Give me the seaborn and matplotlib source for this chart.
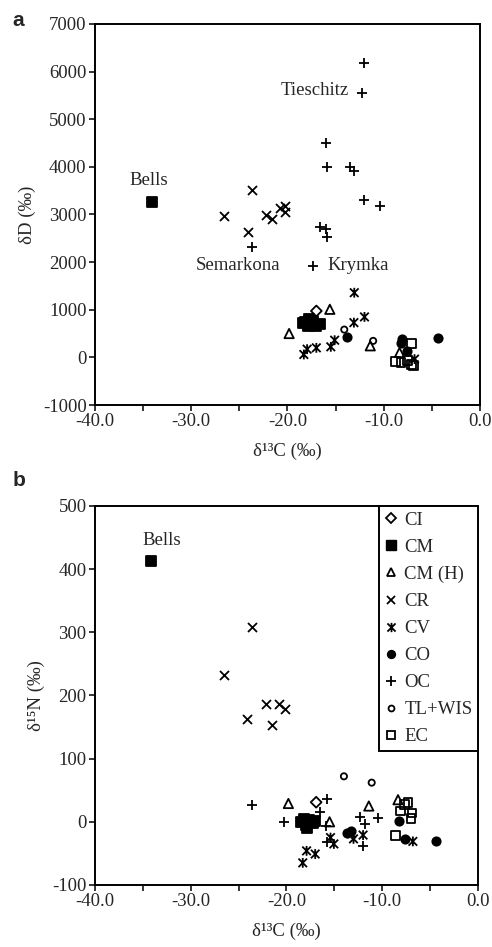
import numpy as np
import pandas as pd
import matplotlib
matplotlib.use("Agg")
import matplotlib.pyplot as plt
from matplotlib.path import Path
from matplotlib.lines import Line2D
from matplotlib.ticker import MultipleLocator, FormatStrFormatter
import seaborn as sns

# panel a: d13C vs dD
a_d13c = [-34.1,
          -12.0, -12.3, -16.0, -15.9, -13.5, -13.1, -12.0, -10.4, -16.65, -16.0, -15.9, -23.66, -17.34,
          -23.66, -26.6, -24.1, -22.2, -21.6, -20.8, -20.3, -20.3,
          -13.06, -12.0, -13.1, -15.1, -15.5, -17.0, -17.96, -18.3, -6.8,
          -17.0,
          -15.6, -19.83, -11.4, -8.36,
          -18.2, -17.8, -17.6, -17.0, -16.6, -17.9, -18.4, -17.3,
          -13.8, -8.1, -8.2, -7.6, -4.4,
          -14.1, -11.1,
          -7.1, -8.8, -8.2, -7.5, -7.1, -6.9]
a_dD = [3270,
        6170, 5557, 4510, 4000, 4000, 3920, 3297, 3172, 2746, 2697, 2537, 2321, 1916,
        3520, 2976, 2628, 2997, 2907, 3143, 3186, 3046,
        1358, 850, 730, 361, 222, 201, 173, 61, -36,
        975,
        1010, 501, 243, 103,
        750, 800, 700, 650, 700, 650, 720, 760,
        424, 396, 305, 130, 410,
        584, 347,
        291, -78, -106, -57, -148, -176]
a_group = (["CM"] + ["OC"] * 13 + ["CR"] * 8 + ["CV"] * 9 + ["CI"] + ["CM (H)"] * 4
           + ["CM"] * 8 + ["CO"] * 5 + ["TL+WIS"] * 2 + ["EC"] * 6)

# panel b: d13C vs d15N
b_d13c = [-34.1,
          -23.65, -26.5, -24.1, -22.1, -21.5, -20.8, -20.2,
          -14.0, -11.1,
          -23.6, -20.3, -15.8, -16.5, -15.9, -12.3, -11.8, -10.4, -12.0, -15.8,
          -19.8, -15.5, -11.4, -8.35,
          -16.9,
          -18.5, -18.0, -17.6, -17.2, -17.9, -18.2, -17.0,
          -18.3, -17.9, -17.0, -15.4, -15.05, -13.2, -13.0, -12.0, -6.8,
          -13.7, -13.3, -8.2, -7.6, -4.4,
          -7.3, -8.1, -6.9, -7.0, -8.6, -7.7]
b_d15n = [413,
          309, 232, 162, 186, 153, 187, 178,
          72, 62,
          27, 0, 36, 15, -6, 8, -3, 6, -38, -32,
          29, 0, 25, 35,
          31,
          0, -5, 3, -2, -10, 5, 2,
          -65, -46, -51, -25, -35, -19, -27, -21, -31,
          -17, -14, 2, -27, -31,
          31, 17, 14, 5, -22, 28]
b_group = (["CM"] + ["CR"] * 7 + ["TL+WIS"] * 2 + ["OC"] * 10 + ["CM (H)"] * 4 + ["CI"]
           + ["CM"] * 7 + ["CV"] * 9 + ["CO"] * 5 + ["EC"] * 6)

groups = ["CI", "CM", "CM (H)", "CR", "CV", "CO", "OC", "TL+WIS", "EC"]

star = Path([(-1, -1), (1, 1), (-1, 1), (1, -1), (0, -1.15), (0, 1.15)],
            [Path.MOVETO, Path.LINETO, Path.MOVETO, Path.LINETO, Path.MOVETO, Path.LINETO])

# marker, size, filled
styles = {
    "CI": ("D", 30, False),
    "CM": ("s", 60, True),
    "CM (H)": ("^", 45, False),
    "CR": ("x", 42, None),
    "CV": (star, 50, False),
    "CO": ("o", 36, True),
    "OC": ("+", 55, None),
    "TL+WIS": ("o", 20, False),
    "EC": ("s", 40, False),
}

sns.set_style("ticks")
plt.rcParams["font.family"] = ["Liberation Serif", "DejaVu Serif"]
plt.rcParams["axes.unicode_minus"] = False


def draw(ax, df, ycol):
    for g in groups:
        sub = df[df["group"] == g]
        if sub.empty:
            continue
        m, s, filled = styles[g]
        kw = dict(marker=m, s=s, color="black", linewidth=1.3, zorder=3)
        if filled is True:
            kw.update(edgecolor="black", facecolor="black")
        elif filled is False:
            kw.update(edgecolor="black", facecolor="none")
        sns.scatterplot(data=sub, x="d13c", y=ycol, ax=ax, legend=False, **kw)


def style_axes(ax):
    ax.set_xlim(-40, 0)
    ax.xaxis.set_major_locator(MultipleLocator(10))
    ax.xaxis.set_minor_locator(MultipleLocator(5))
    ax.xaxis.set_major_formatter(FormatStrFormatter("%.1f"))
    ax.tick_params(which="both", direction="out", length=4, width=1.1,
                   labelsize=13.5, color="black", pad=2)
    for sp in ax.spines.values():
        sp.set_visible(True)
        sp.set_linewidth(1.4)
        sp.set_color("black")
    ax.set_xlabel("δ¹³C (‰)", fontsize=13.5, labelpad=9)


fig = plt.figure(figsize=(4.92, 9.47), dpi=100)
ax1 = fig.add_axes([0.193, 0.5723, 0.7826, 0.4024])
ax2 = fig.add_axes([0.193, 0.0655, 0.7785, 0.4002])

df_a = pd.DataFrame({"d13c": a_d13c, "dD": a_dD, "group": a_group})
df_b = pd.DataFrame({"d13c": b_d13c, "d15n": b_d15n, "group": b_group})

draw(ax1, df_a, "dD")
style_axes(ax1)
ax1.set_ylim(-1000, 7000)
ax1.yaxis.set_major_locator(MultipleLocator(1000))
ax1.set_ylabel("δD (‰)", fontsize=13.5, labelpad=5)
ax1.text(-34.4, 3720, "Bells", ha="center", va="center", fontsize=13.5)
ax1.text(-13.6, 5610, "Tieschitz", ha="right", va="center", fontsize=13.5)
ax1.text(-20.7, 1930, "Semarkona", ha="right", va="center", fontsize=13.5)
ax1.text(-15.8, 1930, "Krymka", ha="left", va="center", fontsize=13.5)

draw(ax2, df_b, "d15n")
style_axes(ax2)
ax2.set_ylim(-100, 500)
ax2.yaxis.set_major_locator(MultipleLocator(100))
ax2.set_ylabel("δ¹⁵N (‰)", fontsize=13.5, labelpad=5)
ax2.text(-33.0, 446, "Bells", ha="center", va="center", fontsize=13.5)

handles = []
for g in groups:
    m, s, filled = styles[g]
    ms = np.sqrt(s) * 0.95
    if filled is True:
        h = Line2D([], [], ls="none", marker=m, ms=ms, mfc="black", mec="black")
    elif filled is False:
        h = Line2D([], [], ls="none", marker=m, ms=ms, mfc="none", mec="black", mew=1.3)
    else:
        h = Line2D([], [], ls="none", marker=m, ms=ms, color="black", mew=1.3)
    handles.append(h)
leg = ax2.legend(handles, groups, loc="upper right", bbox_to_anchor=(1, 1),
                 borderaxespad=0, fancybox=False, frameon=True, fontsize=13.5,
                 handlelength=0.7, handletextpad=0.35, labelspacing=0.53,
                 borderpad=0.3)
leg.get_frame().set_edgecolor("black")
leg.get_frame().set_linewidth(1.4)
leg.get_frame().set_alpha(1)

fig.text(0.025, 0.978, "a", fontsize=15, fontweight="bold", family="Liberation Sans",
         ha="left", va="center")
fig.text(0.025, 0.493, "b", fontsize=15, fontweight="bold", family="Liberation Sans",
         ha="left", va="center")

fig.savefig("out.png", dpi=100)
